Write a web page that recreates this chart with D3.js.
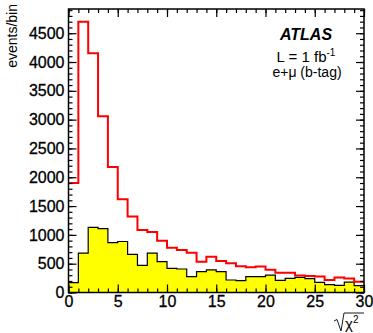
<!DOCTYPE html>
<html>
<head>
<meta charset="utf-8">
<script src="https://cdn.jsdelivr.net/npm/d3@7"></script>
<style>
body { margin: 0; background: #fff; }
svg { display: block; font-family: "Liberation Sans", Arial, sans-serif; }
</style>
</head>
<body>
<svg id="chart"></svg>
<script>
// bin lower edges (sqrt chi2), width 1
var binLow = [0,1,2,3,4,5,6,7,8,9,10,11,12,13,14,15,16,17,18,19,20,21,22,23,24,25,26,27,28,29];
var binHigh = 30;
// red histogram (all events)
var redCounts = [1900,4700,4150,3060,2180,1620,1320,1085,1050,900,775,738,690,535,622,547,507,455,440,450,395,344,344,295,285,278,217,260,243,185];
// yellow histogram (filled)
var yellowCounts = [170,685,1130,1110,865,885,663,472,685,535,420,408,275,361,391,361,217,205,275,275,300,210,246,264,240,175,138,124,180,120];
var xMajor = [0,5,10,15,20,25,30];
var yMajor = [0,500,1000,1500,2000,2500,3000,3500,4000,4500];

var width = 373, height = 333;
var pad = { top: 9, right: 9, bottom: 40.5, left: 68.5 };
var yMax = 4920;

var svg = d3.select("#chart").attr("width", width).attr("height", height);

var x = d3.scaleLinear().domain([0, binHigh]).range([pad.left, width - pad.right]);
var y = d3.scaleLinear().domain([0, yMax]).range([height - pad.bottom, pad.top]);

function steps(counts) {
  var pts = binLow.map(function(b, i){ return { x: b, y: counts[i] }; });
  pts.push({ x: binHigh, y: counts[counts.length - 1] });
  return pts;
}

// yellow fill
svg.append("path")
  .datum(steps(yellowCounts))
  .attr("fill", "#ffff00")
  .attr("d", d3.area().curve(d3.curveStepAfter)
    .x(function(d){ return x(d.x); })
    .y0(y(0))
    .y1(function(d){ return y(d.y); }));

// yellow outline
svg.append("path")
  .datum(steps(yellowCounts))
  .attr("fill", "none")
  .attr("stroke", "#000")
  .attr("stroke-width", 1.2)
  .attr("d", d3.line().curve(d3.curveStepAfter)
    .x(function(d){ return x(d.x); })
    .y(function(d){ return y(d.y); }));

// red histogram
svg.append("path")
  .datum(steps(redCounts))
  .attr("fill", "none")
  .attr("stroke", "#ff0000")
  .attr("stroke-width", 2)
  .attr("d", d3.line().curve(d3.curveStepAfter)
    .x(function(d){ return x(d.x); })
    .y(function(d){ return y(d.y); }));

// axes, ticks pointing inward like ROOT
var xMinor = d3.range(0, 31, 1);
var yMinor = d3.range(0, yMax, 100);

svg.append("g").attr("transform", "translate(0," + y(0) + ")")
  .call(d3.axisBottom(x).tickValues(xMinor).tickSize(-4).tickFormat(""));
var xa = svg.append("g").attr("transform", "translate(0," + y(0) + ")")
  .call(d3.axisBottom(x).tickValues(xMajor).tickSize(-8).tickPadding(3).tickFormat(d3.format("d")));
svg.append("g").attr("transform", "translate(0," + pad.top + ")")
  .call(d3.axisTop(x).tickValues(xMinor).tickSize(-4).tickFormat(""));
svg.append("g").attr("transform", "translate(0," + pad.top + ")")
  .call(d3.axisTop(x).tickValues(xMajor).tickSize(-8).tickFormat(""));

svg.append("g").attr("transform", "translate(" + x(0) + ",0)")
  .call(d3.axisLeft(y).tickValues(yMinor).tickSize(-4).tickFormat(""));
var ya = svg.append("g").attr("transform", "translate(" + x(0) + ",0)")
  .call(d3.axisLeft(y).tickValues(yMajor).tickSize(-8).tickPadding(4).tickFormat(d3.format("d")));
svg.append("g").attr("transform", "translate(" + x(binHigh) + ",0)")
  .call(d3.axisRight(y).tickValues(yMinor).tickSize(-4).tickFormat(""));
svg.append("g").attr("transform", "translate(" + x(binHigh) + ",0)")
  .call(d3.axisRight(y).tickValues(yMajor).tickSize(-8).tickFormat(""));

svg.selectAll(".domain").remove();
svg.selectAll(".tick line").attr("stroke", "#000").attr("stroke-width", 1.2);
xa.selectAll("text").attr("font-size", 16).attr("font-family", "Liberation Sans, Arial, sans-serif")
  .attr("fill", "#000").attr("stroke", "#000").attr("stroke-width", 0.3);
ya.selectAll("text").attr("font-size", 16).attr("font-family", "Liberation Sans, Arial, sans-serif")
  .attr("fill", "#000").attr("stroke", "#000").attr("stroke-width", 0.3);

// frame
svg.append("rect")
  .attr("x", x(0)).attr("y", y(yMax))
  .attr("width", x(binHigh) - x(0)).attr("height", y(0) - y(yMax))
  .attr("fill", "none").attr("stroke", "#000").attr("stroke-width", 1.5);

// y title
svg.append("text")
  .attr("transform", "translate(17,4) rotate(-90)")
  .attr("text-anchor", "end")
  .attr("font-size", 14)
  .text("events/bin");

// x title: sqrt(chi^2)
var xt = svg.append("g").attr("transform", "translate(336,329)");
xt.append("path")
  .attr("d", "M-2,-8 L1,-9.5 L5,2 L8,-16 L28,-16")
  .attr("fill", "none").attr("stroke", "#000").attr("stroke-width", 0.9);
var xtt = xt.append("text").attr("x", 9).attr("font-size", 15);
xtt.append("tspan").text("χ");
xtt.append("tspan").attr("font-size", 10).attr("dy", -6).text("2");

// labels
svg.append("text").attr("x", 306).attr("y", 40)
  .attr("text-anchor", "middle").attr("font-size", 16)
  .attr("font-weight", "bold").attr("font-style", "italic")
  .text("ATLAS");
var lt = svg.append("text").attr("x", 306).attr("y", 62)
  .attr("text-anchor", "middle").attr("font-size", 15);
lt.append("tspan").text("L = 1 fb");
lt.append("tspan").attr("font-size", 10).attr("dy", -6).text("-1");
svg.append("text").attr("x", 307).attr("y", 77)
  .attr("text-anchor", "middle").attr("font-size", 14)
  .text("e+μ (b-tag)");
</script>
</body>
</html>
